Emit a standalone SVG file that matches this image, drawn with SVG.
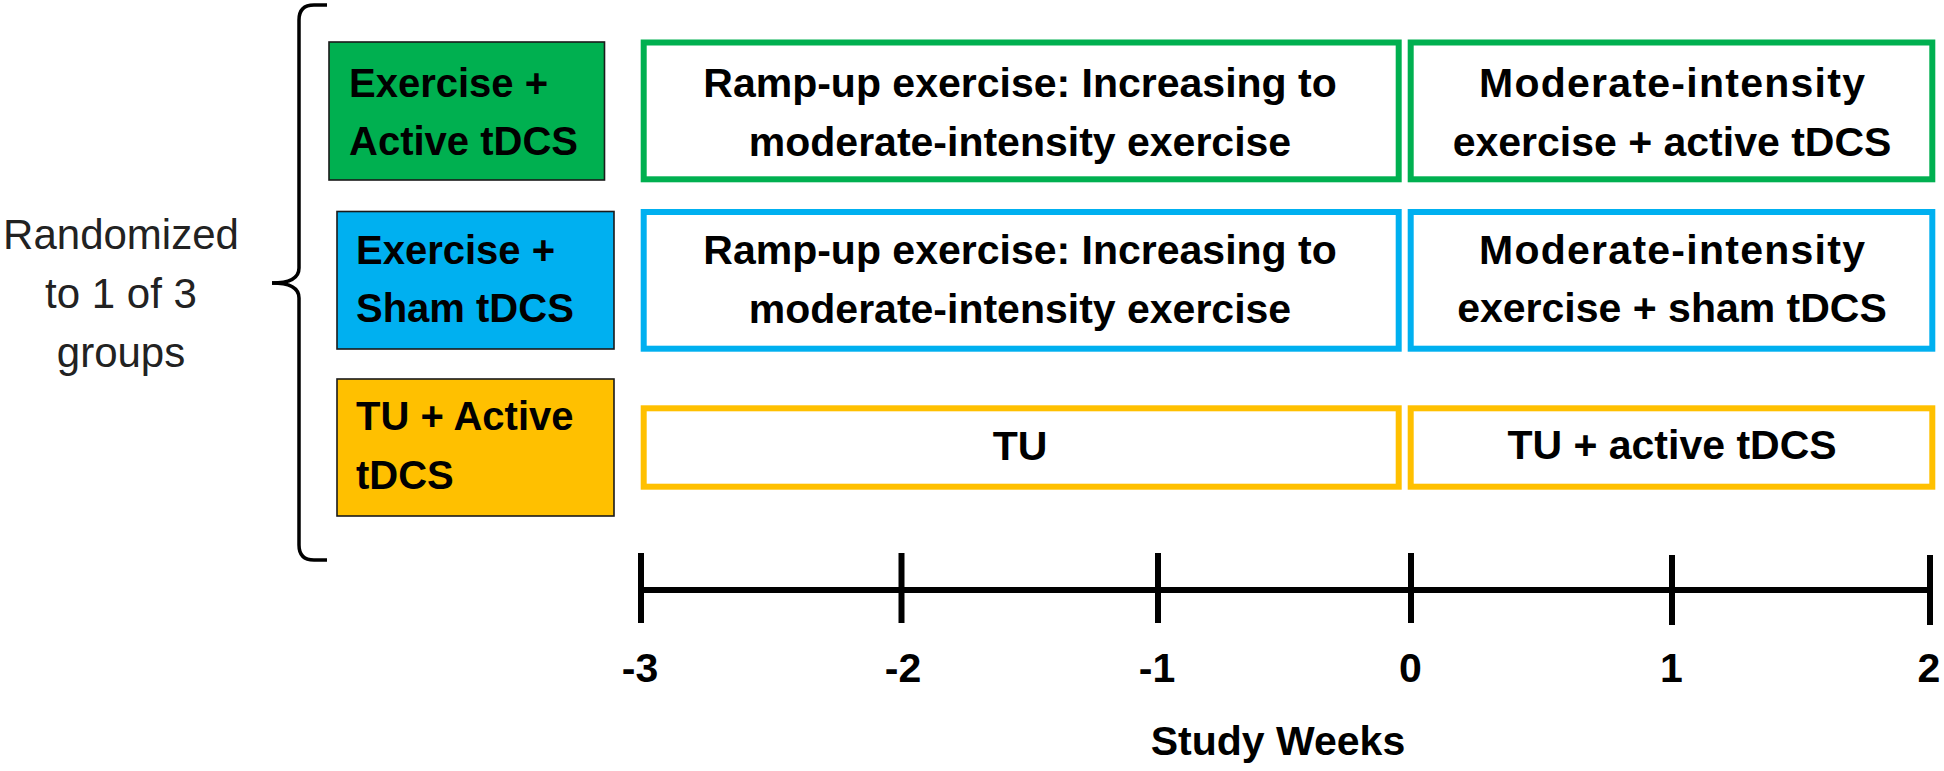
<svg xmlns="http://www.w3.org/2000/svg" width="1944" height="771" viewBox="0 0 1944 771">
<style>
  .lbl { font-family: "Liberation Sans", Arial, sans-serif; font-weight: bold; font-size: 40px; fill: #000; }
  .ctr { font-family: "Liberation Sans", Arial, sans-serif; font-weight: bold; font-size: 41px; fill: #000; text-anchor: middle; }
  .reg { font-family: "Liberation Sans", Arial, sans-serif; font-size: 42px; fill: #222; text-anchor: middle; }
  .fillbox { stroke: #1a1a1a; stroke-width: 1.6; }
  .obox { fill: #fff; stroke-width: 6; }
  .g { stroke: #00B050; }
  .b { stroke: #00B0F0; }
  .o { stroke: #FFC000; }
  .axis { stroke: #000; stroke-width: 6; fill: none; }
  .tick { stroke: #000; stroke-width: 6; }
  .brace { stroke: #000; stroke-width: 3.5; fill: none; stroke-linecap: butt; }
</style>
<rect width="1944" height="771" fill="#fff"/>

<g id="randomized">
  <text class="reg" x="121" y="249">Randomized</text>
  <text class="reg" x="121" y="308">to 1 of 3</text>
  <text class="reg" x="121" y="367">groups</text>
</g>

<g id="connectors">
  <path class="brace" d="M327,5 H314 Q299,5 299,20 V268 Q299,283 272,283"/>
  <path class="brace" d="M272,283 Q299,283 299,298 V545 Q299,560 314,560 H327"/>
</g>

<g id="group-exercise-active">
  <rect class="fillbox" x="329" y="42" width="275.5" height="138" fill="#00B050"/>
  <text class="lbl" x="349" y="97">Exercise +</text>
  <text class="lbl" x="349" y="155">Active tDCS</text>
</g>
<g id="group-exercise-sham">
  <rect class="fillbox" x="337" y="211.5" width="277" height="137.5" fill="#00B0F0"/>
  <text class="lbl" x="356" y="263.5">Exercise +</text>
  <text class="lbl" x="356" y="322">Sham tDCS</text>
</g>
<g id="group-tu-active">
  <rect class="fillbox" x="337" y="379" width="277" height="137" fill="#FFC000"/>
  <text class="lbl" x="356" y="430">TU + Active</text>
  <text class="lbl" x="356" y="489">tDCS</text>
</g>

<g id="row1-rampup">
  <rect class="obox g" x="643.7" y="42.5" width="755" height="136.8"/>
  <text class="ctr" x="1020" y="97">Ramp-up exercise: Increasing to</text>
  <text class="ctr" x="1020" y="156">moderate-intensity exercise</text>
</g>
<g id="row1-moderate">
  <rect class="obox g" x="1410.7" y="42.5" width="521.6" height="136.8"/>
  <text class="ctr" x="1672" y="97" textLength="386" lengthAdjust="spacing">Moderate-intensity</text>
  <text class="ctr" x="1672" y="155.5">exercise + active tDCS</text>
</g>

<g id="row2-rampup">
  <rect class="obox b" x="643.7" y="212" width="755" height="136.7"/>
  <text class="ctr" x="1020" y="263.5">Ramp-up exercise: Increasing to</text>
  <text class="ctr" x="1020" y="322.5">moderate-intensity exercise</text>
</g>
<g id="row2-moderate">
  <rect class="obox b" x="1410.7" y="212" width="521.6" height="136.7"/>
  <text class="ctr" x="1672" y="263.5" textLength="386" lengthAdjust="spacing">Moderate-intensity</text>
  <text class="ctr" x="1672" y="322">exercise + sham tDCS</text>
</g>

<g id="row3-tu">
  <rect class="obox o" x="643.7" y="408.3" width="755" height="78.4"/>
  <text class="ctr" x="1020" y="460">TU</text>
</g>
<g id="row3-tu-active">
  <rect class="obox o" x="1410.7" y="408.3" width="521.6" height="78.4"/>
  <text class="ctr" x="1672" y="459">TU + active tDCS</text>
</g>

<g id="timeline">
  <line class="axis" x1="641" y1="590" x2="1930" y2="590"/>
  <line class="tick" x1="641" y1="553" x2="641" y2="623"/>
  <line class="tick" x1="901.5" y1="553" x2="901.5" y2="623"/>
  <line class="tick" x1="1158" y1="553" x2="1158" y2="623"/>
  <line class="tick" x1="1411" y1="553" x2="1411" y2="623"/>
  <line class="tick" x1="1672" y1="555" x2="1672" y2="625"/>
  <line class="tick" x1="1930" y1="555" x2="1930" y2="625"/>
  <text class="ctr" x="640" y="682">-3</text>
  <text class="ctr" x="903" y="682">-2</text>
  <text class="ctr" x="1157" y="682">-1</text>
  <text class="ctr" x="1410.5" y="682">0</text>
  <text class="ctr" x="1671.5" y="682">1</text>
  <text class="ctr" x="1929" y="682">2</text>
  <text class="ctr" x="1278" y="755">Study Weeks</text>
</g>
</svg>
